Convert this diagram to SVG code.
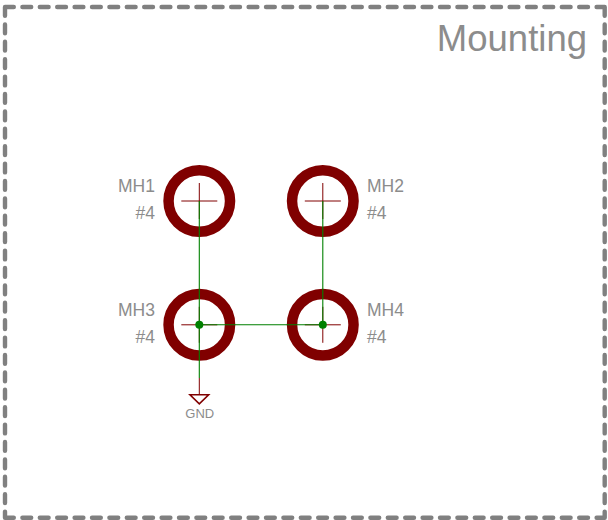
<svg xmlns="http://www.w3.org/2000/svg" width="608" height="520" viewBox="0 0 608 520">
<style>
.t{font-family:"Liberation Sans",Arial,sans-serif;fill:#8c8c8c}
.l{font-size:17.5px}
.ring{fill:none;stroke:#800000;stroke-width:10.5}
.x{stroke:#800000;stroke-width:1;fill:none}
.w{stroke:#008000;stroke-width:1.1;fill:none}
</style>
<rect width="608" height="520" fill="#fff"/>
<path id="frame" d="M5 7H604.7M5 517.7H604.7M5 7V517.7M604.7 7V517.7" fill="none" stroke="#808080" stroke-width="4.4" stroke-linecap="round" stroke-dasharray="8.8 8.6"/>
<text id="title" class="t" x="587" y="51" font-size="36.5" text-anchor="end">Mounting</text>
<g id="MH1"><circle class="ring" cx="199.3" cy="201" r="30.75"/><path class="x" d="M181.3 201H217.3M199.3 183V219"/><text class="t l" x="155" y="192.3" text-anchor="end">MH1</text><text class="t l" x="155" y="219" text-anchor="end">#4</text></g>
<g id="MH2"><circle class="ring" cx="322.8" cy="201" r="30.75"/><path class="x" d="M304.8 201H340.8M322.8 183V219"/><text class="t l" x="367" y="192.3">MH2</text><text class="t l" x="367" y="219">#4</text></g>
<g id="MH3"><circle class="ring" cx="199.3" cy="324.8" r="30.75"/><path class="x" d="M181.3 324.8H217.3M199.3 306.8V342.8"/><text class="t l" x="155" y="315.8" text-anchor="end">MH3</text><text class="t l" x="155" y="342.8" text-anchor="end">#4</text></g>
<g id="MH4"><circle class="ring" cx="322.8" cy="324.8" r="30.75"/><path class="x" d="M304.8 324.8H340.8M322.8 306.8V342.8"/><text class="t l" x="367" y="315.8">MH4</text><text class="t l" x="367" y="342.8">#4</text></g>
<g id="GND"><path class="x" d="M199.3 378V395"/><path d="M190 394.800H208.600L199.300 403.800Z" fill="none" stroke="#800000" stroke-width="1.600"/><text class="t" x="199.800" y="417.500" font-size="13" text-anchor="middle">GND</text></g>
<g id="connectors"><path class="w" d="M199.300 201V378M322.800 201V324.800M199.300 324.800H322.800"/><circle cx="199.300" cy="324.800" r="4" fill="#008000"/><circle cx="322.800" cy="324.800" r="4" fill="#008000"/></g>
</svg>
